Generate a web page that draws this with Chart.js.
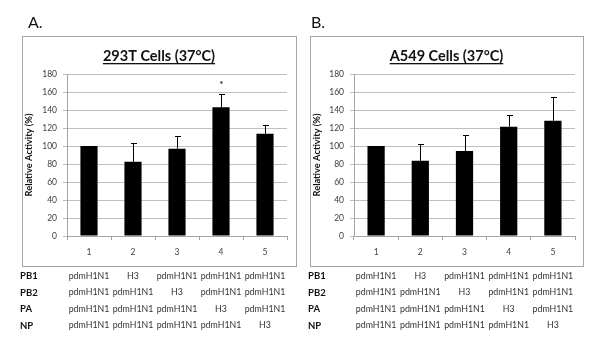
<!DOCTYPE html>
<html><head><meta charset="utf-8">
<script src="https://cdn.jsdelivr.net/npm/chart.js@4/dist/chart.umd.min.js"></script>
<style>
html,body{margin:0;padding:0;background:#fff;}
#wrap{position:relative;width:600px;height:343px;overflow:hidden;}
.cv{position:absolute;top:0;width:300px;height:343px;}
</style></head><body>
<div id="wrap">
<div class="cv" style="left:0"><canvas id="cA"></canvas></div>
<div class="cv" style="left:300px"><canvas id="cB"></canvas></div>
</div>
<script>
// ---- data ----
const categories = ['1', '2', '3', '4', '5'];
const yTicks = [0, 20, 40, 60, 80, 100, 120, 140, 160, 180];
const titleA = '293T Cells (37°C)';
const titleB = 'A549 Cells (37°C)';
const valuesA = [100, 82.5, 97, 143, 113.5];
const errorsA = [0, 21, 14.5, 14.5, 10];
const marksA = ['', '', '', '*', ''];
const valuesB = [100, 83.5, 94.5, 121.5, 128];
const errorsB = [0, 18.5, 17.5, 13, 26];
const marksB = ['', '', '', '', ''];
const rowLabels = ['PB1', 'PB2', 'PA', 'NP'];
const rowPB1 = ['pdmH1N1', 'H3', 'pdmH1N1', 'pdmH1N1', 'pdmH1N1'];
const rowPB2 = ['pdmH1N1', 'pdmH1N1', 'H3', 'pdmH1N1', 'pdmH1N1'];
const rowPA  = ['pdmH1N1', 'pdmH1N1', 'pdmH1N1', 'H3', 'pdmH1N1'];
const rowNP  = ['pdmH1N1', 'pdmH1N1', 'pdmH1N1', 'pdmH1N1', 'H3'];
const tableRows = [rowPB1, rowPB2, rowPA, rowNP];

const FONT = 'Lato, "Open Sans", sans-serif';

function makeChart(id, cfg) {
  const decor = {
    id: 'decor',
    beforeDraw(chart) {
      const ctx = chart.ctx;
      ctx.save();
      ctx.fillStyle = '#fff';
      ctx.fillRect(0, 0, chart.width, chart.height);
      ctx.strokeStyle = '#a6a6a6';
      ctx.lineWidth = 1;
      ctx.strokeRect(cfg.box[0] + 0.5, cfg.box[1] + 0.5, cfg.box[2] - cfg.box[0], cfg.box[3] - cfg.box[1]);
      // panel letter
      ctx.fillStyle = '#111';
      ctx.font = '16px ' + FONT;
      ctx.textBaseline = 'middle';
      ctx.textAlign = 'left';
      ctx.fillText(cfg.letter, cfg.letterX, 23);
      // title
      ctx.font = 'bold 14.5px ' + FONT;
      ctx.textAlign = 'center';
      ctx.textBaseline = 'alphabetic';
      const cx = (cfg.box[0] + cfg.box[2]) / 2;
      ctx.fillText(cfg.title, cx, 61);
      const w = ctx.measureText(cfg.title).width;
      ctx.fillRect(cx - w / 2, 63, w, 1.3);
      ctx.restore();
    },
    afterDatasetsDraw(chart) {
      const ctx = chart.ctx;
      const xs = chart.scales.x, ys = chart.scales.y;
      ctx.save();
      ctx.strokeStyle = '#000';
      ctx.lineWidth = 1;
      cfg.values.forEach((v, i) => {
        const e = cfg.errors[i];
        const x = Math.round(xs.getPixelForValue(i)) + 0.5;
        const y0 = ys.getPixelForValue(v);
        const y1 = ys.getPixelForValue(v + e);
        if (e > 0) {
          ctx.beginPath();
          ctx.moveTo(x, y0); ctx.lineTo(x, Math.round(y1) + 0.5);
          ctx.moveTo(x - 2.5, Math.round(y1) + 0.5); ctx.lineTo(x + 3.5, Math.round(y1) + 0.5);
          ctx.stroke();
        }
        if (cfg.marks[i]) {
          ctx.fillStyle = '#000';
          ctx.font = '10px ' + FONT;
          ctx.textAlign = 'center';
          ctx.textBaseline = 'middle';
          ctx.fillText(cfg.marks[i], x, y1 - 9);
        }
      });
      // table
      ctx.textBaseline = 'middle';
      const rowY = [276, 292.5, 309, 325.5];
      rowLabels.forEach((lab, r) => {
        ctx.fillStyle = '#111';
        ctx.font = 'bold 9.5px ' + FONT;
        ctx.textAlign = 'left';
        ctx.fillText(lab, cfg.rowLabelX, rowY[r]);
        ctx.fillStyle = '#333';
        ctx.font = '8.8px ' + FONT;
        ctx.textAlign = 'center';
        tableRows[r].forEach((t, i) => {
          ctx.fillText(t, xs.getPixelForValue(i), rowY[r]);
        });
      });
      ctx.restore();
    }
  };
  return new Chart(document.getElementById(id), {
    type: 'bar',
    data: {
      labels: categories,
      datasets: [{ data: cfg.values, backgroundColor: '#000', borderWidth: 0,
        categoryPercentage: 1, barPercentage: 0.39 }]
    },
    options: {
      responsive: false, animation: false,
      devicePixelRatio: 1,
      layout: { padding: { left: 0, right: cfg.padRight, top: 74, bottom: 77 } },
      plugins: { legend: { display: false }, tooltip: { enabled: false }, title: { display: false } },
      scales: {
        x: {
          afterFit(s) { s.height = 30; },
          grid: { display: true, offset: true, drawOnChartArea: false, tickLength: 4, color: '#a6a6a6' },
          border: { color: '#a6a6a6' },
          ticks: { padding: 7, color: '#404040', font: { family: FONT, size: 8.5 } }
        },
        y: {
          min: 0, max: 180,
          afterFit(s) { s.width = cfg.axisX; },
          afterBuildTicks(s) { s.ticks = yTicks.map(v => ({ value: v })); },
          grid: { color: '#bfbfbf', tickLength: 4 },
          border: { color: '#a6a6a6' },
          ticks: { padding: 6, color: '#404040', font: { family: FONT, size: 8.5 } },
          title: { display: true, text: 'Relative Activity (%)', color: '#111',
            font: { family: FONT, size: 9.3, weight: 'bold' }, padding: { top: cfg.yTitlePad, bottom: 0 } }
        }
      }
    },
    plugins: [decor]
  });
}

function setup(id) {
  const c = document.getElementById(id);
  c.width = 300; c.height = 343;
  c.style.width = '300px'; c.style.height = '343px';
}
setup('cA'); setup('cB');

makeChart('cA', { values: valuesA, errors: errorsA, marks: marksA, title: titleA, letter: 'A.',
  letterX: 28, box: [22, 36, 296, 266], padRight: 13, axisX: 67, yTitlePad: 23, rowLabelX: 20 });
makeChart('cB', { values: valuesB, errors: errorsB, marks: marksB, title: titleB, letter: 'B.',
  letterX: 11, box: [10, 36, 283, 266], padRight: 25, axisX: 54, yTitlePad: 11, rowLabelX: 8 });
</script>
</body></html>
